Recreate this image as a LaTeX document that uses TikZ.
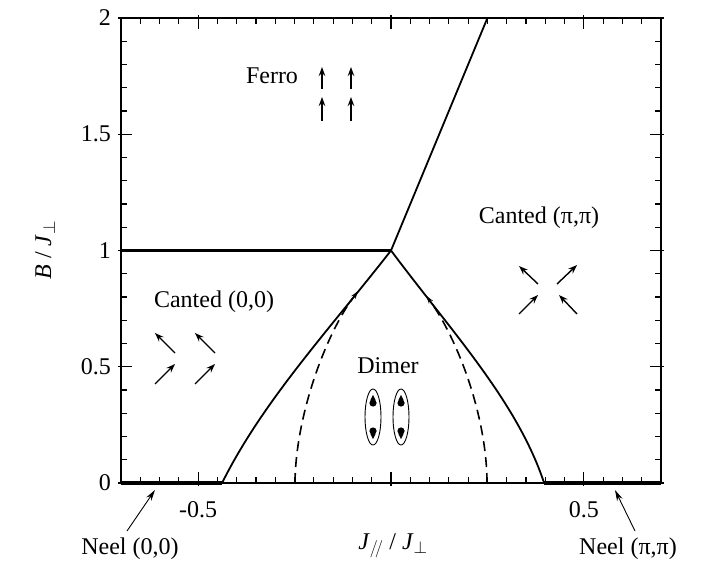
\documentclass[tikz,border=0pt]{standalone}
\usepackage{fontspec}
\setmainfont{Liberation Serif}
\usetikzlibrary{arrows.meta}
\tikzset{
  lbl/.style={font=\fontsize{24}{28}\selectfont, inner sep=0pt},
  spin/.style={line width=1.4pt, -{Stealth[length=9pt,width=6.5pt]}},
  phase/.style={line width=1.8pt},
  hline/.style={line width=2.2pt},
  neelline/.style={line width=3.5pt},
  dashcurve/.style={line width=1.6pt, dash pattern=on 10pt off 6pt},
  pointer/.style={line width=0.9pt, -{Stealth[length=11pt,width=6pt]}},
  frame/.style={line width=1.3pt},
  dimerring/.style={line width=0.9pt},
  mergetip/.style={line width=1.2pt, -{Stealth[length=8pt,width=5pt]}},
}
\begin{document}
\begin{tikzpicture}[x=1pt,y=-1pt]
\useasboundingbox (0,0) rectangle (706,569);

% ticks in pixel coordinates: frame x 121..661, y 18..483
\draw[line width=1.1pt]
  foreach \k in {0,...,28} {
    ({121+\k*19.2857},483) -- ({121+\k*19.2857},477)
    ({121+\k*19.2857},18) -- ({121+\k*19.2857},24)
  }
  foreach \k in {4,14,24} {
    ({121+\k*19.2857},486) -- ({121+\k*19.2857},472)
    ({121+\k*19.2857},15) -- ({121+\k*19.2857},29)
  }
  foreach \m in {0,...,20} {
    (121,{483-\m*23.25}) -- (127,{483-\m*23.25})
    (661,{483-\m*23.25}) -- (655,{483-\m*23.25})
  }
  foreach \m in {0,5,10,15,20} {
    (118,{483-\m*23.25}) -- (132,{483-\m*23.25})
    (664,{483-\m*23.25}) -- (650,{483-\m*23.25})
  };

\begin{scope}[shift={(391pt,-483pt)}, x=385.7pt, y=232.5pt]
  \draw[frame] (-0.7,0) rectangle (0.7,2);
  % tick labels
  \foreach \y/\t in {0/0,0.5/0.5,1/1,1.5/1.5,2/2}
    \node[lbl, anchor=east] (ylab\t) at ([xshift=-10pt]-0.7,\y) {\t};
  \node[lbl] (xlabm) at ([yshift=-27pt]-0.5,0) {-0.5};
  \node[lbl] (xlabp) at ([yshift=-27pt]0.5,0) {0.5};

  % key points
  \coordinate (T) at (0,1);
  \coordinate (L0) at (-0.438,0);
  \coordinate (R0) at (0.397,0);
  \coordinate (LF) at (-0.7,0);
  \coordinate (RF) at (0.7,0);
  \coordinate (H0) at (-0.7,1);
  \coordinate (TOP) at (0.25,2);
  \coordinate (DL0) at (-0.249,0);
  \coordinate (DR0) at (0.249,0);
  \coordinate (DL1) at (-0.099,0.795);
  \coordinate (DR1) at (0.1045,0.775);

  % Neel segments
  \draw[neelline] (LF) -- (L0);
  \draw[neelline] (R0) -- (RF);

  % phase boundaries
  \draw[hline] (H0) -- (T);
  \draw[phase] (T) -- (TOP);
  \draw[phase] (L0) .. controls (-0.333,0.35) and (-0.165,0.65) .. (T);
  \draw[phase] (R0) .. controls (0.327,0.35) and (0.1575,0.65) .. (T);

  % dashed curves
  \draw[dashcurve] (DL0) .. controls (-0.247,0.3) and (-0.166,0.645) .. (DL1);
  \draw[dashcurve] (DR0) .. controls (0.248,0.3) and (0.169,0.625) .. (DR1);
  \coordinate (aL1) at (-0.117,0.755);
  \coordinate (aL2) at (-0.0855,0.825);
  \coordinate (aR1) at (0.122,0.735);
  \coordinate (aR2) at (0.0916,0.805);
  \draw[mergetip] (aL1) -- (aL2);
  \draw[mergetip] (aR1) -- (aR2);
\end{scope}

% axis labels
\node[lbl, rotate=90] (ylabel) at (45,250) {\textit{B} / \textit{J}$_\perp$};
\node[lbl] (xlabel) at (393,546) {\textit{J}$_{/\!/}$ / \textit{J}$_\perp$};

% phase labels
\node[lbl] (ferro) at (272,76) {Ferro};
\node[lbl] (c00) at (214,302) {Canted (0,0)};
\node[lbl] (cpp) at (539,218) {Canted (π,π)};
\node[lbl] (dimer) at (388,366) {Dimer};
\node[lbl] (neel1) at (130,549) {Neel (0,0)};
\node[lbl] (neel2) at (628,549) {Neel (π,π)};

% Neel pointers
\coordinate (n1a) at (127,531);
\coordinate (n1b) at (155,490);
\coordinate (n2a) at (635,531);
\coordinate (n2b) at (615,490);
\draw[pointer] (n1a) -- (n1b);
\draw[pointer] (n2a) -- (n2b);

% Ferro spins
\foreach \x in {322,351} {
  \draw[spin] (\x,89) -- (\x,67);
  \draw[spin] (\x,121) -- (\x,97);
}
% Canted (0,0) spins
\foreach \x in {155,195} {
  \draw[spin] (\x+20,353) -- (\x,333);
  \draw[spin] (\x,384) -- (\x+20,364);
}
% Canted (pi,pi) spins
\draw[spin] (538,284) -- (519,266);
\draw[spin] (557,284) -- (577,265);
\draw[spin] (519,314) -- (538,295);
\draw[spin] (577,314) -- (559,295);

% Dimer
\foreach \x in {373,401} {
  \draw[dimerring] (\x,417) ellipse [x radius=8, y radius=28];
  \fill (\x,403) circle [radius=3.6];
  \fill (\x,431) circle [radius=3.6];
  \fill (\x-2.6,400) -- (\x,395) -- (\x+2.6,400) -- cycle;
  \fill (\x-2.6,434) -- (\x,439) -- (\x+2.6,434) -- cycle;
}
\end{tikzpicture}
\end{document}
